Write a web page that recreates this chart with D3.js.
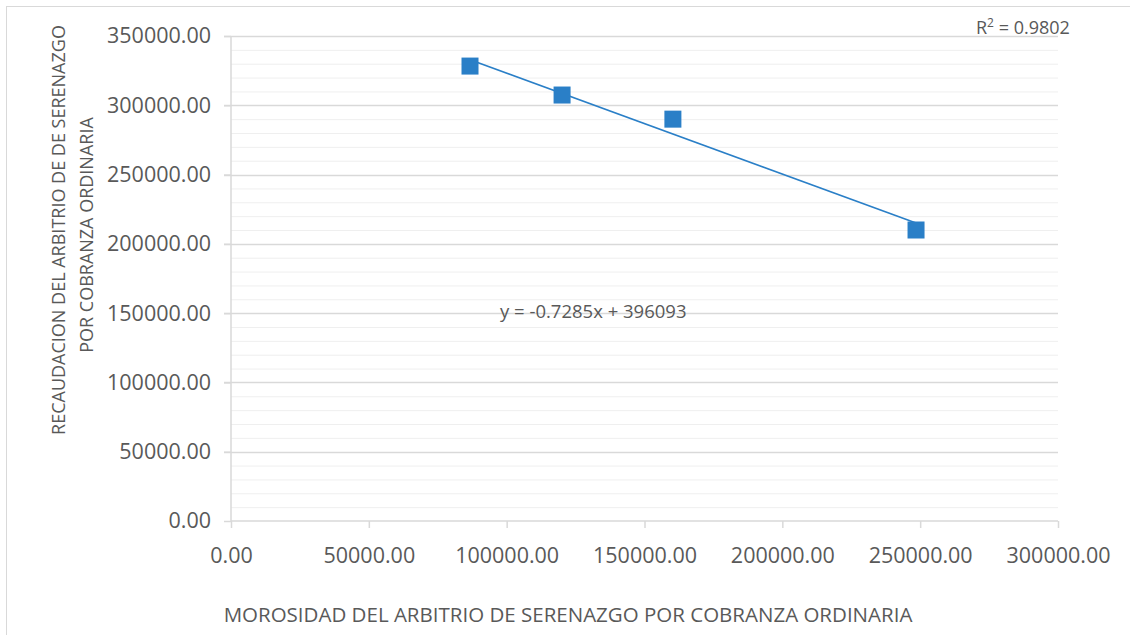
<!DOCTYPE html>
<html><head><meta charset="utf-8">
<script src="https://cdn.jsdelivr.net/npm/d3@7"></script>
<style>body{margin:0;background:#fff}svg{display:block}text{font-family:"Open Sans",sans-serif;fill:#595959}</style>
</head><body>
<svg id="c" width="1130" height="635"></svg>
<script>
const morosidad = [86700, 120100, 160300, 248500];
const recaudacion = [328300, 307400, 290000, 210000];
const slope = -0.7285;
const intercept = 396093;
const rSquared = "0.9802";
const xTicks = [0, 50000, 100000, 150000, 200000, 250000, 300000];
const yTicks = [0, 50000, 100000, 150000, 200000, 250000, 300000, 350000];
const xTitle = "MOROSIDAD DEL ARBITRIO DE SERENAZGO POR COBRANZA ORDINARIA";
const yTitle1 = "RECAUDACION DEL ARBITRIO DE  DE SERENAZGO";
const yTitle2 = "POR COBRANZA ORDINARIA";

const svg = d3.select("#c");
const L = 231, R = 1058, T = 36, B = 521;
const x = d3.scaleLinear().domain([0, 300000]).range([L, R]);
const y = d3.scaleLinear().domain([0, 350000]).range([B, T]);
const blue = "#2a7fc7";

svg.append("rect").attr("x", 6.5).attr("y", 6.5).attr("width", 1130).attr("height", 640)
  .attr("fill", "none").attr("stroke", "#d9d9d9");

// minor gridlines
const minor = d3.range(0, 350001, 10000).filter(v => v % 50000 !== 0);
svg.append("g").selectAll("line").data(minor).join("line")
  .attr("x1", L).attr("x2", R).attr("y1", d => y(d) + 0.5).attr("y2", d => y(d) + 0.5)
  .attr("stroke", "#efefef").attr("stroke-width", 1);
// major gridlines
svg.append("g").selectAll("line").data(yTicks.filter(v => v > 0)).join("line")
  .attr("x1", L - 7).attr("x2", R).attr("y1", d => Math.round(y(d)) + 0.5).attr("y2", d => Math.round(y(d)) + 0.5)
  .attr("stroke", "#d9d9d9").attr("stroke-width", 1.3);

// axes
const xAxis = svg.append("g").attr("transform", `translate(0,${B})`)
  .call(d3.axisBottom(x).tickValues(xTicks).tickSize(7).tickFormat(d => d3.format(".2f")(d)));
xAxis.select(".domain").attr("stroke", "#d9d9d9").attr("stroke-width", 1.5).attr("d", `M${L},0H${R}`);
xAxis.selectAll(".tick line").attr("stroke", "#d9d9d9").attr("stroke-width", 1.5);
xAxis.selectAll(".tick text").attr("y", 35).attr("dy", "0.32em").style("font-size", "21.5px").attr("fill", "#595959");

const yAxis = svg.append("g").attr("transform", `translate(${L},0)`)
  .call(d3.axisLeft(y).tickValues(yTicks).tickSize(7).tickFormat(d => d3.format(".2f")(d)));
yAxis.select(".domain").attr("stroke", "#d9d9d9").attr("stroke-width", 1.5).attr("d", `M0,${T}V${B}`);
yAxis.selectAll(".tick line").attr("stroke", "#d9d9d9").attr("stroke-width", 1.5);
yAxis.selectAll(".tick text").attr("x", -20).style("font-size", "21.5px").attr("fill", "#595959");
svg.selectAll(".tick text").style("font-family", "'Open Sans',sans-serif");

// trendline
const x0 = d3.min(morosidad), x1 = d3.max(morosidad);
svg.append("line").attr("x1", x(x0)).attr("y1", y(slope * x0 + intercept))
  .attr("x2", x(x1)).attr("y2", y(slope * x1 + intercept))
  .attr("stroke", blue).attr("stroke-width", 1.6);

// markers
const s = 17;
svg.append("g").selectAll("rect").data(morosidad.map((v, i) => [v, recaudacion[i]])).join("rect")
  .attr("x", d => x(d[0]) - s / 2).attr("y", d => y(d[1]) - s / 2)
  .attr("width", s).attr("height", s).attr("fill", blue);

// labels
svg.append("text").attr("x", 976).attr("y", 34).style("font-size", "18px")
  .html(`R<tspan dy="-7" style="font-size:12px">2</tspan><tspan dy="7"> = ${rSquared}</tspan>`);
svg.append("text").attr("x", 500).attr("y", 318).style("font-size", "18.5px")
  .text(`y = ${slope}x + ${intercept}`);

svg.append("text").attr("x", 568).attr("y", 622).attr("text-anchor", "middle").style("font-size", "20.5px")
  .text(xTitle);
svg.append("text").attr("transform", "translate(65,230) rotate(-90)").attr("text-anchor", "middle").style("font-size", "18px")
  .text(yTitle1);
svg.append("text").attr("transform", "translate(93,235) rotate(-90)").attr("text-anchor", "middle").style("font-size", "18px")
  .text(yTitle2);
</script>
</body></html>
